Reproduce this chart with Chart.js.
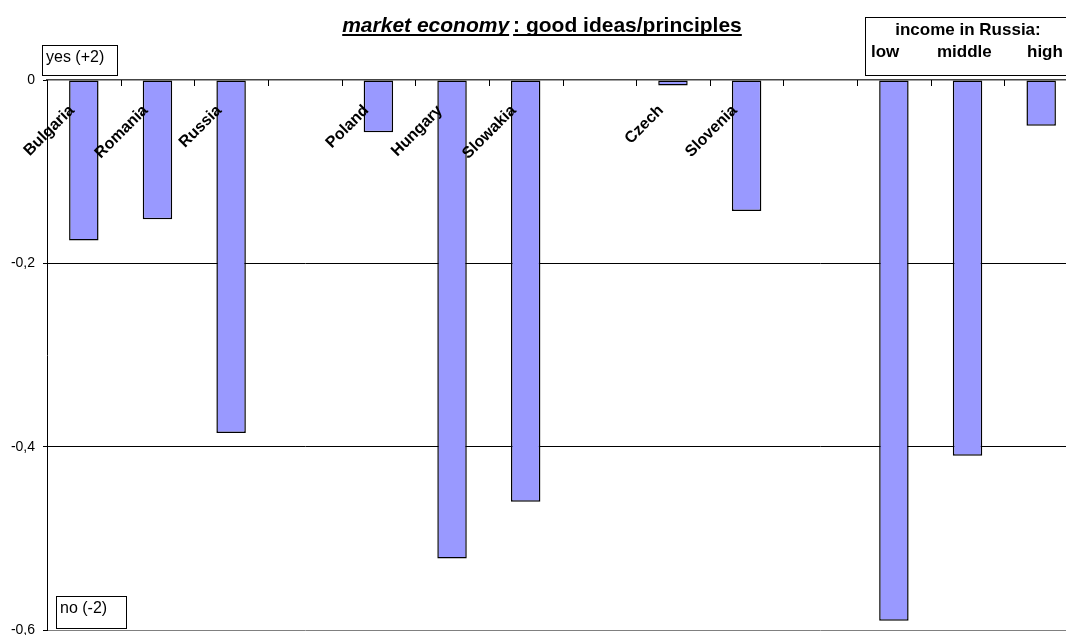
<!DOCTYPE html>
<html>
<head>
<meta charset="utf-8">
<script src="https://cdn.jsdelivr.net/npm/chart.js@4/dist/chart.umd.min.js"></script>
<style>
  html, body { margin: 0; padding: 0; background: #fff; overflow: hidden; }
  #wrap { width: 1080px; height: 635px; position: relative; }
</style>
</head>
<body>
<div id="wrap"><canvas id="myChart"></canvas></div>
<script>
// datos
const categories = ['Bulgaria', 'Romania', 'Russia', '', 'Poland', 'Hungary', 'Slowakia', '', 'Czech', 'Slovenia', '', 'low', 'middle', 'high'];
const values = [-0.175, -0.152, -0.385, null, -0.057, -0.522, -0.46, null, -0.006, -0.143, null, -0.59, -0.41, -0.05];
const incomeGroups = ['low', 'middle', 'high'];
const yTicks = [0, -0.2, -0.4, -0.6];

const FONT = 'Arial, "Liberation Sans", sans-serif';

// etiquetas, cajas y titulo dibujados a mano
const overlay = {
  id: 'overlay',
  afterDraw(chart) {
    const ctx = chart.ctx;
    const xs = chart.scales.x;
    const area = chart.chartArea;
    ctx.save();

    // marcas entre categorias sobre la linea del cero
    ctx.strokeStyle = '#000';
    ctx.lineWidth = 1;
    for (let i = 1; i < categories.length; i++) {
      const px = Math.round((xs.getPixelForValue(i - 1) + xs.getPixelForValue(i)) / 2) + 0.5;
      ctx.beginPath();
      ctx.moveTo(px, area.top);
      ctx.lineTo(px, area.top + 6);
      ctx.stroke();
    }

    // nombres de paises girados
    ctx.font = 'bold 16px ' + FONT;
    ctx.fillStyle = '#000';
    ctx.textAlign = 'right';
    ctx.textBaseline = 'middle';
    categories.forEach((c, i) => {
      if (!c || incomeGroups.includes(c)) return;
      ctx.save();
      ctx.translate(xs.getPixelForValue(i) - 12, area.top + 28);
      ctx.rotate(-Math.PI / 4);
      ctx.fillText(c, 0, 0);
      ctx.restore();
    });

    // cajas yes / no
    ctx.textAlign = 'left';
    ctx.textBaseline = 'alphabetic';
    ctx.font = '16px ' + FONT;
    ctx.fillStyle = '#fff';
    ctx.fillRect(42.5, 45.5, 75, 30);
    ctx.strokeRect(42.5, 45.5, 75, 30);
    ctx.fillStyle = '#000';
    ctx.fillText('yes (+2)', 46, 62);

    ctx.fillStyle = '#fff';
    ctx.fillRect(56.5, 596.5, 70, 32);
    ctx.strokeRect(56.5, 596.5, 70, 32);
    ctx.fillStyle = '#000';
    ctx.fillText('no (-2)', 60, 613);

    // caja de ingresos
    ctx.fillStyle = '#fff';
    ctx.fillRect(865.5, 17.5, 230, 58);
    ctx.strokeRect(865.5, 17.5, 230, 58);
    ctx.fillStyle = '#000';
    ctx.font = 'bold 17px ' + FONT;
    ctx.textAlign = 'center';
    ctx.fillText('income in Russia:', 968, 35);
    ctx.textAlign = 'left';
    ctx.fillText(incomeGroups[0], 871, 57);
    ctx.fillText(incomeGroups[1], 937, 57);
    ctx.fillText(incomeGroups[2], 1027, 57);

    // titulo
    const part1 = 'market economy';
    const part2 = ': good ideas/principles';
    ctx.font = 'italic bold 21px ' + FONT;
    const w1 = ctx.measureText(part1).width;
    ctx.font = 'bold 21px ' + FONT;
    const w2 = ctx.measureText(part2).width;
    const gap = 4;
    const x0 = 542 - (w1 + gap + w2) / 2;
    const yb = 32;
    ctx.font = 'italic bold 21px ' + FONT;
    ctx.fillText(part1, x0, yb);
    ctx.font = 'bold 21px ' + FONT;
    ctx.fillText(part2, x0 + w1 + gap, yb);
    ctx.fillRect(x0, yb + 2, w1, 2);
    ctx.fillRect(x0 + w1 + gap, yb + 2, w2, 2);

    ctx.restore();
  }
};

const ctx = document.getElementById('myChart').getContext('2d');

new Chart(ctx, {
  type: 'bar',
  data: {
    labels: categories,
    datasets: [{
      data: values,
      backgroundColor: '#9999FF',
      borderColor: '#000',
      borderWidth: 1.5,
      borderSkipped: false,
      barPercentage: 0.4,
      categoryPercentage: 1
    }]
  },
  options: {
    responsive: true,
    maintainAspectRatio: false,
    animation: false,
    layout: { padding: { left: 0, top: 0, right: 2, bottom: 5 } },
    plugins: {
      legend: { display: false },
      tooltip: { enabled: false }
    },
    scales: {
      x: {
        position: 'top',
        offset: true,
        afterFit: s => { s.height = 80; s.paddingLeft = 0; s.paddingRight = 0; },
        ticks: { display: false },
        grid: { drawOnChartArea: false, drawTicks: false },
        border: { color: '#444', width: 1.5 }
      },
      y: {
        min: -0.6,
        max: 0,
        afterFit: s => { s.width = 47; s.paddingTop = 0; s.paddingBottom = 0; },
        afterBuildTicks: s => { s.ticks = yTicks.map(v => ({ value: v })); },
        ticks: {
          color: '#000',
          font: { family: FONT, size: 14 },
          padding: 8,
          callback: v => String(Math.round(v * 10) / 10).replace('.', ',')
        },
        grid: {
          tickLength: 4,
          tickColor: '#000',
          color: c => (c.tick && c.tick.value === 0) ? 'rgba(0,0,0,0)' : (c.tick && c.tick.value === -0.6 ? '#808080' : '#000')
        },
        border: { color: '#000', width: 1 }
      }
    }
  },
  plugins: [overlay]
});
</script>
</body>
</html>
